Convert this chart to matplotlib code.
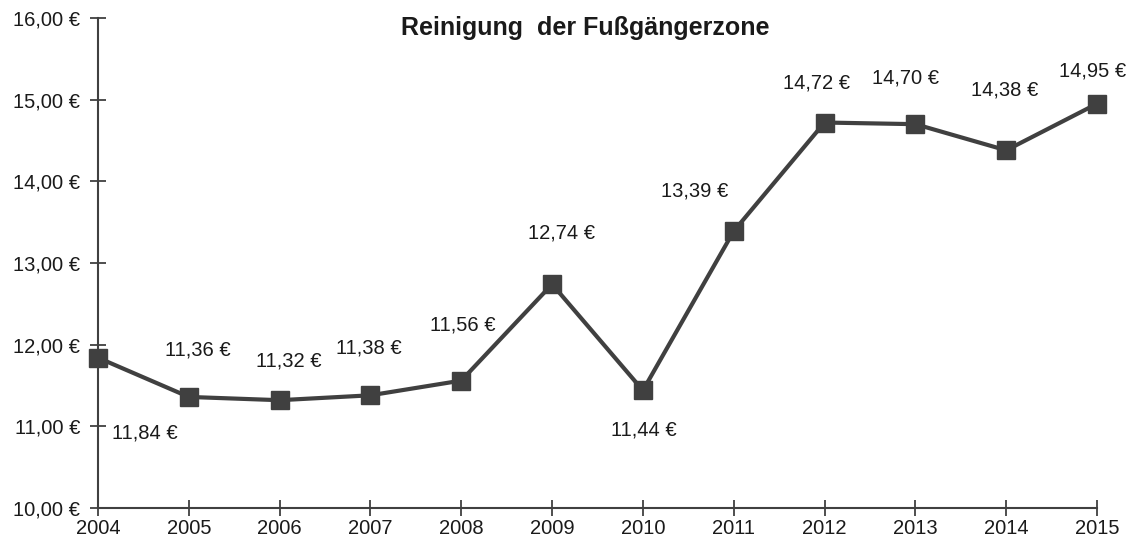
import matplotlib.pyplot as plt
from matplotlib.ticker import FuncFormatter

plt.rcParams['font.family'] = ['Liberation Sans', 'DejaVu Sans']

years = [2004, 2005, 2006, 2007, 2008, 2009, 2010, 2011, 2012, 2013, 2014, 2015]
prices = [11.84, 11.36, 11.32, 11.38, 11.56, 12.74, 11.44, 13.39, 14.72, 14.70, 14.38, 14.95]
title = "Reinigung  der Fußgängerzone"

# label offsets in pixels (dx, dy) relative to each point
label_offsets = [(47, -75), (9, 47), (9, 39), (-2, 47), (1, 56), (9, 51),
                 (1, -40), (-39, 40), (-8, 40), (-10, 46), (-2, 60), (-4, 33)]


def euro(v):
    return f"{v:.2f}".replace(".", ",") + " €"


fig = plt.figure(figsize=(11.42, 5.46), dpi=100)
ax = fig.add_axes([98 / 1142, 1 - 508 / 546, 999 / 1142, 490 / 546])

ax.plot(years, prices, color='#404040', lw=3, marker='s', markersize=12.5,
        clip_on=False, zorder=3)

for x, y, (dx, dy) in zip(years, prices, label_offsets):
    ax.annotate(euro(y), (x, y), xytext=(dx, dy), textcoords='offset pixels',
                ha='center', va='center', fontsize=14.5, color='#1a1a1a')

ax.set_xlim(2004, 2015)
ax.set_ylim(10, 16)
ax.set_xticks(years)
ax.set_yticks(range(10, 17))
ax.yaxis.set_major_formatter(FuncFormatter(lambda v, p: euro(v)))

for s in ['top', 'right']:
    ax.spines[s].set_visible(False)
for s in ['left', 'bottom']:
    ax.spines[s].set_color('#404040')
    ax.spines[s].set_linewidth(1.5)

ax.tick_params(direction='inout', length=12, width=1.3, color='#404040',
               labelsize=14.5, labelcolor='#1a1a1a')
ax.tick_params(axis='y', pad=7)
ax.tick_params(axis='x', pad=2)

fig.text(585 / 1142, 1 - 28 / 546, title, ha='center', va='center',
         fontsize=18, fontweight='bold', color='#1a1a1a')

fig.savefig('out.png', dpi=100)
